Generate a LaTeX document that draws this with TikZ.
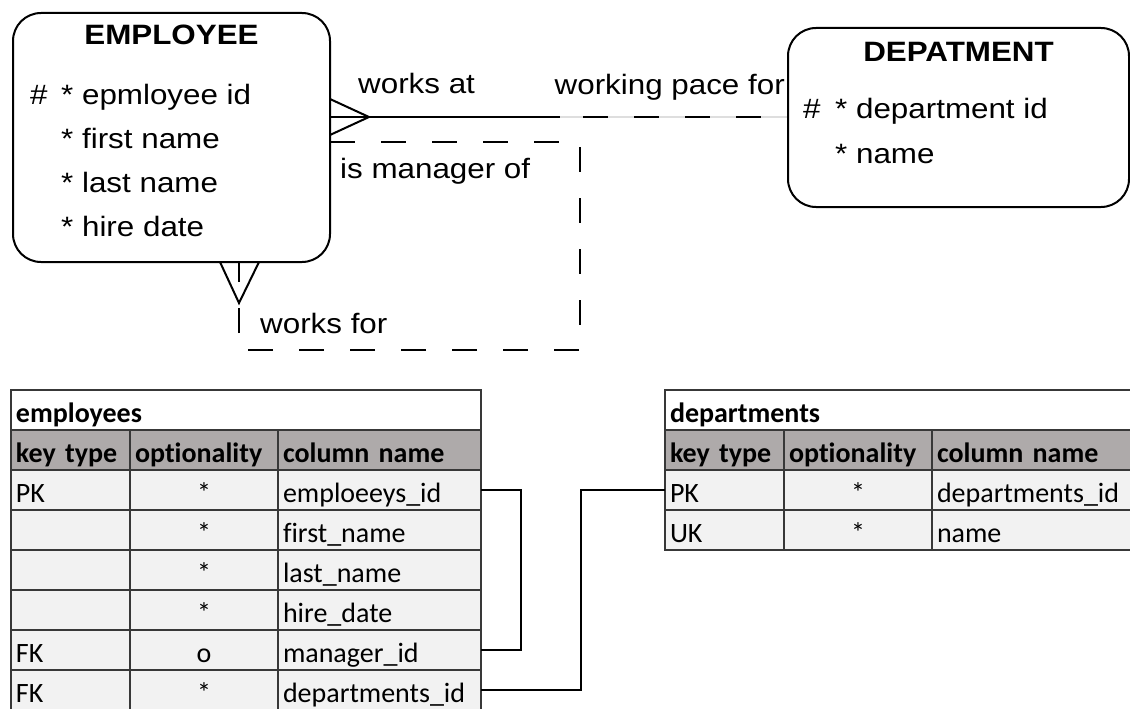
\documentclass[tikz,border=0pt]{standalone}
\usepackage{fontspec}
\usetikzlibrary{positioning}
\newfontfamily\erfont[FakeStretch=1.12]{Liberation Sans}
\newfontfamily\tblfont[Ligatures=NoCommon]{Carlito}
\newcommand{\ersize}{\fontsize{28}{34}\selectfont}
\newcommand{\tblsize}{\fontsize{28}{34}\selectfont}
\definecolor{headfill}{HTML}{AEAAAA}
\definecolor{rowfill}{HTML}{F2F2F2}
\definecolor{tblline}{HTML}{383838}

\begin{document}
\begin{tikzpicture}[
  x=1pt, y=-1pt,
  entity/.style={draw, line width=2pt, rounded corners=28pt, outer sep=0pt,
                 anchor=north west},
  entitle/.style={font=\erfont\ersize\bfseries, anchor=base, inner sep=0pt},
  attr/.style={font=\erfont\ersize, anchor=base west, inner sep=0pt},
  rellabel/.style={font=\erfont\ersize, inner sep=0pt},
  rel/.style={line width=2pt},
  reldash/.style={line width=2pt, dash pattern=on 25pt off 26pt},
  cell/.style={draw=tblline, line width=1.3pt, fill=rowfill, anchor=north west,
               outer sep=0pt, inner xsep=5pt, inner ysep=0pt, minimum height=40pt,
               text height=30pt, text depth=6pt, font=\tblfont\tblsize, align=left},
  head/.style={fill=headfill, font=\tblfont\tblsize\bfseries},
  keycol/.style={text width=109pt},
  optcol/.style={text width=138pt, align=center},
  empname/.style={text width=193pt},
  depname/.style={text width=250pt},
  link/.style={line width=2pt}
]
\path[use as bounding box, fill=white] (0,0) rectangle (1130,709);
\clip (0,0) rectangle (1130,709);

% entities
\node[entity, minimum width=317pt, minimum height=249pt] (employee) at (13,13) {};
\node[entitle] (emptitle) at (171.5,45) {EMPLOYEE};
\node[attr] (emphash) at (30,104) {\#};
\foreach \a [count=\i] in {epmloyee id, first name, last name, hire date}
  \node[attr] (empatt\i) at (61,{60+44*\i}) {* \a};

\node[entity, minimum width=341pt, minimum height=179pt] (department) at (788,28) {};
\node[entitle] (deptitle) at (958.5,62) {DEPATMENT};
\node[attr] (dephash) at (803,118) {\#};
\node[attr] (depatt1) at (835,118) {* department id};
\node[attr] (depatt2) at (835,163) {* name};

% works at / working pace for
\coordinate (wa) at (0,117);
\coordinate (wamid) at (560,117);
\draw[rel] (employee.east |- 0,99) -- (369,117) -- (employee.east |- 0,135);
\draw[rel] (employee.east |- wa) -- (wamid);
\draw[line width=2pt, black!13] (wamid) -- (department.west |- wa);
\draw[reldash, dash phase=28pt] (wamid) -- (department.west |- wa);
\node[rellabel, anchor=base west] (worksat) at (358,93) {works at};
\node[rellabel, anchor=base east] (workpace) at (785,95) {working pace for};

% is manager of / works for
\coordinate (mgtop) at (580,142);
\coordinate (mgbot) at (580,350);
\coordinate (wftip) at (239,303);
\draw[reldash] (employee.east |- mgtop) -- (mgtop) -- (mgbot) -- (mgbot -| wftip) -- (wftip);
\draw[rel] (220,262) -- (wftip) -- (259,262);
\draw[rel] (wftip |- employee.south) -- (239,282);
\node[rellabel, anchor=base west] (mgrof) at (340,178) {is manager of};
\node[rellabel, anchor=base west] (worksfor) at (260,333) {works for};

% employees table
\node[cell, fill=white, text width=460pt, font=\tblfont\tblsize\bfseries] (emptbl) at (11,390) {employees};
\node[cell, head, keycol] (emp-0-a) at (11,430) {key type};
\node[cell, head, keycol, text width=138pt] (emp-0-b) at (emp-0-a.north east) {optionality};
\node[cell, head, empname] (emp-0-c) at (emp-0-b.north east) {column name};
\foreach \k/\o/\c [count=\i] in {PK/*/emploeeys\_id, {}/*/first\_name, {}/*/last\_name,
    {}/*/hire\_date, FK/o/manager\_id, FK/*/departments\_id} {
  \node[cell, keycol] (emp-\i-a) at (11,{430+40*\i}) {\k};
  \node[cell, optcol] (emp-\i-b) at (emp-\i-a.north east) {\o};
  \node[cell, empname] (emp-\i-c) at (emp-\i-b.north east) {\c};
}

% departments table
\node[cell, fill=white, text width=510pt, font=\tblfont\tblsize\bfseries] (deptbl) at (665,390) {departments};
\node[cell, head, keycol] (dep-0-a) at (665,430) {key type};
\node[cell, head, keycol, text width=138pt] (dep-0-b) at (dep-0-a.north east) {optionality};
\node[cell, head, depname] (dep-0-c) at (dep-0-b.north east) {column name};
\foreach \k/\o/\c [count=\i] in {PK/*/departments\_id, UK/*/name} {
  \node[cell, keycol] (dep-\i-a) at (665,{430+40*\i}) {\k};
  \node[cell, optcol] (dep-\i-b) at (dep-\i-a.north east) {\o};
  \node[cell, depname] (dep-\i-c) at (dep-\i-b.north east) {\c};
}

% foreign keys
\coordinate (bend) at (581,0);
\draw[link] (emp-1-c.east) -- ++(40,0) |- (emp-5-c.east);
\draw[link] (emp-6-c.east) -| (bend |- dep-1-a.west) -- (dep-1-a.west);
\end{tikzpicture}
\end{document}
